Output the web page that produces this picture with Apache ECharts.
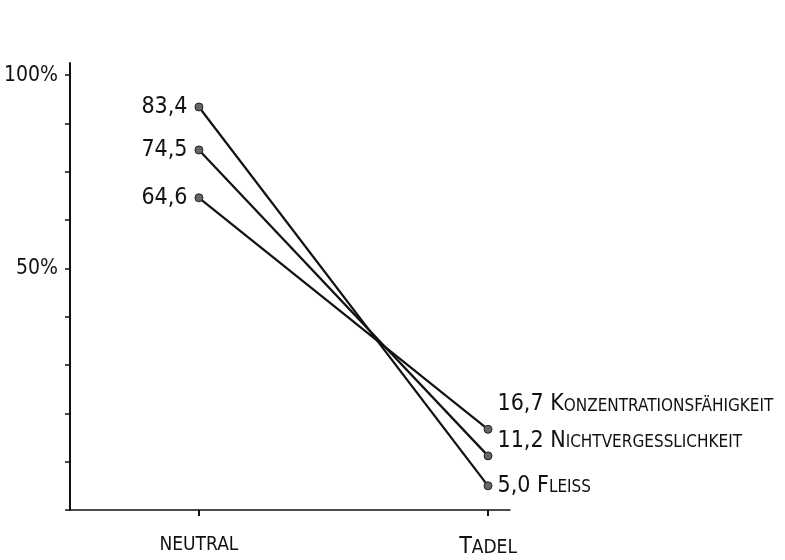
<!DOCTYPE html>
<html>
<head>
<meta charset="utf-8">
<script src="https://cdn.jsdelivr.net/npm/echarts@6/dist/echarts.min.js"></script>
<style>html,body{margin:0;padding:0;background:#fff}#c{width:785px;height:560px}</style>
</head>
<body>
<div id="c"></div>
<script>
const categories = ['neutral', 'Tadel'];
const seriesNames = ['Konzentrationsfähigkeit', 'Nichtvergesslichkeit', 'Fleiss'];
const konzentration = [64.6, 16.7];
const nichtvergess = [74.5, 11.2];
const fleiss = [83.4, 5.0];
const yTickValues = [0, 10, 20, 30, 40, 50, 60, 70, 80, 90];
const yTickLabels = { 50: '50%', 90: '100%' };

const FONT = "'DejaVu Sans Condensed', 'Liberation Sans Narrow', sans-serif";
const seriesValues = [konzentration, nichtvergess, fleiss];
const rightLabelOffsets = [[0, -25], [0, -15], [0, 0]];

function smallCaps(s, big, small) {
  let out = '', run = '', runUpper = null;
  const flush = () => { if (run) out += '{' + (runUpper ? big : small) + '|' + run + '}'; run = ''; };
  for (const ch of s) {
    const up = ch !== ch.toLowerCase();
    if (runUpper !== null && up !== runUpper) flush();
    runUpper = up;
    run += ch.toUpperCase();
  }
  flush();
  return out;
}
const fmt = v => v.toFixed(1).replace('.', ',');

const series = seriesValues.map((vals, si) => ({
  type: 'line',
  name: seriesNames[si],
  symbol: 'circle',
  symbolSize: 8,
  lineStyle: { color: '#111', width: 2.2 },
  itemStyle: { color: '#666', borderColor: '#222', borderWidth: 1 },
  data: categories.map((c, i) => {
    const item = { value: [i + 1, vals[i]] };
    if (i === 0) {
      item.label = {
        show: true, position: 'left', distance: 7,
        formatter: fmt(vals[i]),
        fontFamily: FONT, fontSize: 23, color: '#111'
      };
    } else {
      item.label = {
        show: true, position: 'right', distance: 5,
        offset: rightLabelOffsets[si],
        formatter: '{n|' + fmt(vals[i]) + ' }' + smallCaps(seriesNames[si], 'b', 's'),
        rich: {
          n: { fontFamily: FONT, fontSize: 23, color: '#111', verticalAlign: 'bottom' },
          b: { fontFamily: FONT, fontSize: 23, color: '#111', verticalAlign: 'bottom' },
          s: { fontFamily: FONT, fontSize: 17, color: '#111', verticalAlign: 'bottom', padding: [0, 0, 1, 0] }
        }
      };
    }
    return item;
  })
}));

const chart = echarts.init(document.getElementById('c'));
chart.setOption({
  animation: false,
  backgroundColor: '#fff',
  grid: { left: 70, right: 275, top: 63, bottom: 50, containLabel: false, outerBoundsMode: 'none' },
  xAxis: {
    type: 'value', min: 0.554, max: 2.076,
    splitLine: { show: false },
    axisLine: { show: true, lineStyle: { color: '#111', width: 1.5 } },
    axisTick: { show: true, customValues: [1, 2], length: 6, lineStyle: { color: '#111', width: 2 } },
    axisLabel: {
      show: true, customValues: [1, 2], margin: 26,
      formatter: v => smallCaps(categories[Math.round(v) - 1], 'b', 's'),
      rich: {
        b: { fontFamily: FONT, fontSize: 23, color: '#111', verticalAlign: 'bottom' },
        s: { fontFamily: FONT, fontSize: 19, color: '#111', verticalAlign: 'bottom', padding: [0, 0, 1, 0] }
      }
    }
  },
  yAxis: {
    type: 'value', min: 0, max: 92.5,
    splitLine: { show: false },
    axisLine: { show: true, lineStyle: { color: '#111', width: 2 } },
    axisTick: { show: true, customValues: yTickValues, length: 5, lineStyle: { color: '#111', width: 1.5 } },
    axisLabel: {
      show: true, customValues: [50, 90], margin: 12,
      formatter: v => yTickLabels[Math.round(v)] || '',
      fontFamily: FONT, fontSize: 21, color: '#111'
    }
  },
  series: series
});
</script>
</body>
</html>
